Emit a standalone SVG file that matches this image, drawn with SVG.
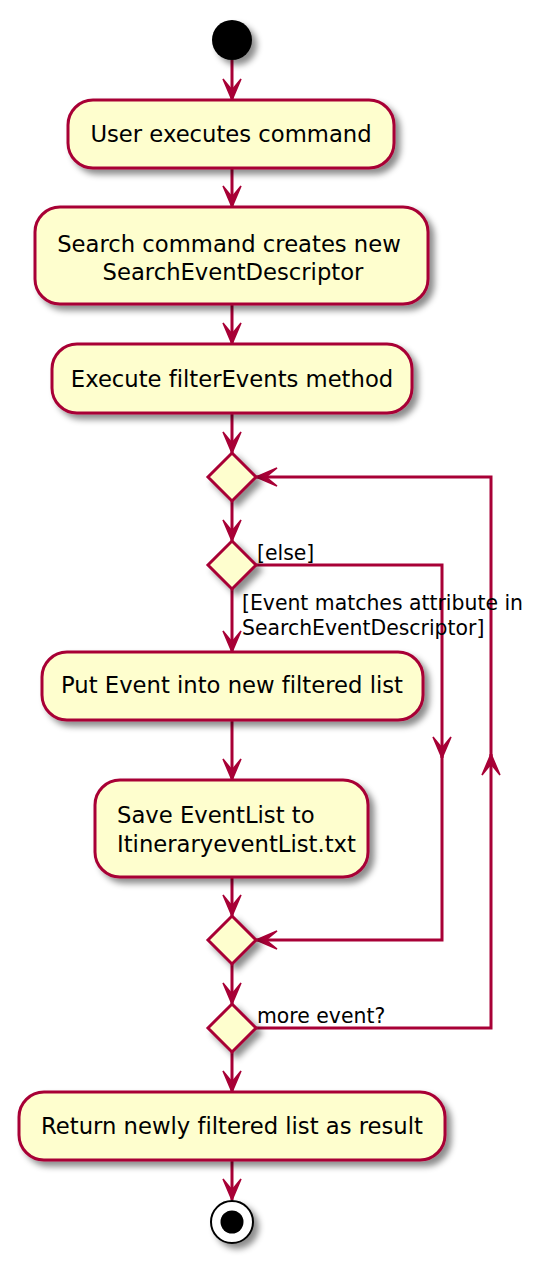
<svg xmlns="http://www.w3.org/2000/svg" width="554" height="1264" viewBox="0 0 554 1264">
<style>
.box{fill:#FEFECE;stroke:#A80036;stroke-width:3}
.t{font-family:"DejaVu Sans",sans-serif;font-size:22.7px;fill:#000;font-variant-ligatures:none}
.c{text-anchor:middle}
.lbl{font-family:"DejaVu Sans",sans-serif;font-size:20.4px;fill:#000;font-variant-ligatures:none}
.edge{fill:none;stroke:#A80036;stroke-width:3}
</style>
<defs>
<filter id="sh" x="-20%" y="-20%" width="150%" height="160%">
<feGaussianBlur in="SourceAlpha" stdDeviation="3"/>
<feOffset dx="5" dy="5" result="b"/>
<feColorMatrix in="b" type="matrix" values="0 0 0 0 0  0 0 0 0 0  0 0 0 0 0  0 0 0 0.45 0"/>
<feMerge><feMergeNode/><feMergeNode in="SourceGraphic"/></feMerge>
</filter>
<marker id="ah" viewBox="0 0 24 20" refX="22" refY="10" markerWidth="24" markerHeight="20" markerUnits="userSpaceOnUse" orient="auto">
<path d="M1,1 L22,10 L1,19 L12,10 Z" fill="#A80036" stroke="#A80036" stroke-width="1.5" stroke-linejoin="miter"/>
</marker>
</defs>
<rect width="554" height="1264" fill="#FFFFFF"/>
<g id="connectors">
<path class="edge" d="M232,60 L232,100" marker-end="url(#ah)"/>
<path class="edge" d="M232,168 L232,207" marker-end="url(#ah)"/>
<path class="edge" d="M232,304 L232,344" marker-end="url(#ah)"/>
<path class="edge" d="M232,413 L232,453" marker-end="url(#ah)"/>
<path class="edge" d="M232,501 L232,541" marker-end="url(#ah)"/>
<path class="edge" d="M232,589 L232,652" marker-end="url(#ah)"/>
<path class="edge" d="M232,720 L232,780" marker-end="url(#ah)"/>
<path class="edge" d="M232,877 L232,916" marker-end="url(#ah)"/>
<path class="edge" d="M232,964 L232,1004" marker-end="url(#ah)"/>
<path class="edge" d="M232,1052 L232,1092" marker-end="url(#ah)"/>
<path class="edge" d="M232,1160 L232,1200" marker-end="url(#ah)"/>
<path class="edge" d="M256,565 L442,565 L442,758" marker-end="url(#ah)"/>
<path class="edge" d="M442,756 L442,940 L256,940" marker-end="url(#ah)"/>
<path class="edge" d="M256,1028 L491,1028 L491,754" marker-end="url(#ah)"/>
<path class="edge" d="M491,756 L491,477 L256,477" marker-end="url(#ah)"/>
<text class="lbl" x="257" y="560">[else]</text>
<text class="lbl" x="242" y="610">[Event matches attribute in</text>
<text class="lbl" x="242" y="635">SearchEventDescriptor]</text>
<text class="lbl" x="257" y="1023">more event?</text>
</g>
<g id="start"><circle cx="232" cy="40" r="20" fill="#000" filter="url(#sh)"/></g>
<g id="n1"><rect class="box" x="68" y="100" width="326" height="68" rx="25" filter="url(#sh)"/><text class="t c" x="231" y="142">User executes command</text></g>
<g id="n2"><rect class="box" x="35" y="207" width="393" height="97" rx="25" filter="url(#sh)"/><text class="t c" x="229" y="252">Search command creates new</text><text class="t c" x="233" y="280">SearchEventDescriptor</text></g>
<g id="n3"><rect class="box" x="52" y="344" width="360" height="69" rx="25" filter="url(#sh)"/><text class="t c" x="232" y="387">Execute filterEvents method</text></g>
<g id="d1"><polygon class="box" points="232,453 256,477 232,501 208,477" filter="url(#sh)"/></g>
<g id="d2"><polygon class="box" points="232,541 256,565 232,589 208,565" filter="url(#sh)"/></g>
<g id="n4"><rect class="box" x="42" y="652" width="381" height="68" rx="25" filter="url(#sh)"/><text class="t c" x="232" y="693">Put Event into new filtered list</text></g>
<g id="n5"><rect class="box" x="95" y="780" width="273" height="97" rx="25" filter="url(#sh)"/><text class="t" x="117" y="823">Save EventList to</text><text class="t" x="117" y="852">ItineraryeventList.txt</text></g>
<g id="d3"><polygon class="box" points="232,916 256,940 232,964 208,940" filter="url(#sh)"/></g>
<g id="d4"><polygon class="box" points="232,1004 256,1028 232,1052 208,1028" filter="url(#sh)"/></g>
<g id="n6"><rect class="box" x="19" y="1092" width="426" height="68" rx="25" filter="url(#sh)"/><text class="t c" x="232" y="1134">Return newly filtered list as result</text></g>
<g id="end"><circle cx="232" cy="1222" r="21" fill="#FFFFFF" stroke="#000" stroke-width="2" filter="url(#sh)"/><circle cx="232" cy="1222" r="11.5" fill="#000"/></g>
</svg>
